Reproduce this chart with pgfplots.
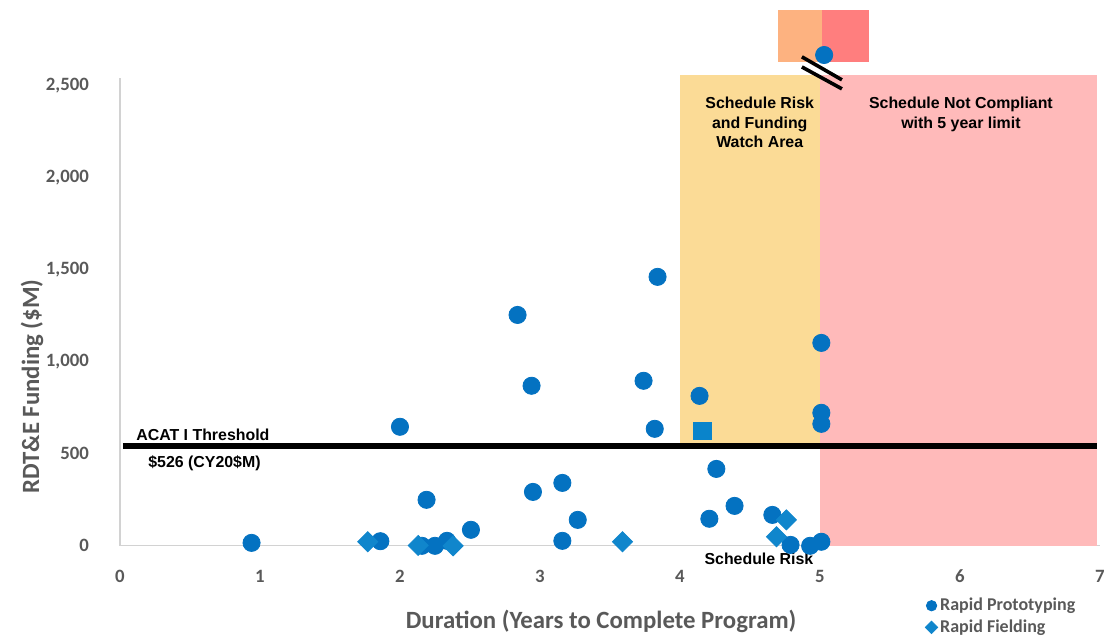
\documentclass[border=0pt]{standalone}
\usepackage{pgfplots}
\pgfplotsset{compat=1.18}
\usepackage{fontspec}
\setmainfont{Carlito}
\newfontfamily\arialfont{Liberation Sans}
\definecolor{tickgray}{RGB}{89,89,89}
\definecolor{ptblue}{RGB}{4,114,193}
\definecolor{dmblue}{RGB}{16,134,204}
\definecolor{sqblue}{RGB}{10,132,203}
\definecolor{watchyellow}{RGB}{251,219,150}
\definecolor{ncpink}{RGB}{255,186,186}
\definecolor{insetorange}{RGB}{253,178,128}
\definecolor{insetred}{RGB}{255,126,126}
\definecolor{axgray}{RGB}{210,210,210}
\begin{document}
\begin{tikzpicture}
\begin{axis}[
  scale only axis, width=490pt, height=234.1pt,
  xmin=0, xmax=7, ymin=0, ymax=2545,
  clip=false,
  axis x line*=bottom, axis y line*=left,
  axis line style={draw=axgray, line width=0.6pt, -},
  xtick={0,1,2,3,4,5,6,7}, ytick={0,500,1000,1500,2000,2500},
  major tick length=0pt,
  /pgf/number format/assume math mode=true,
  /pgf/number format/1000 sep={,},
  tick label style={font=\fontsize{9.4}{11}\selectfont\bfseries, text=tickgray},
  yticklabel style={xshift=-12pt},
  xticklabel style={yshift=-8.5pt},
  xlabel={Duration (Years to Complete Program)},
  ylabel={RDT\&E Funding (\$M)},
  every axis x label/.style={at={(axis description cs:0.491,0)}, anchor=center, yshift=-38pt,
     font=\fontsize{12.4}{14}\selectfont\bfseries, text=tickgray},
  every axis y label/.style={at={(axis description cs:-0.0898,0.34)}, rotate=90, anchor=center,
     font=\fontsize{12.4}{14}\selectfont\bfseries, text=tickgray},
  legend style={at={(axis cs:5.75,-268)}, anchor=north west, draw=none, fill=none,
     font=\fontsize{9}{10}\selectfont\bfseries, text=tickgray, row sep=0.6pt,
     inner sep=0pt, nodes={inner sep=1.2pt}},
  legend cell align=left,
  legend image code/.code={\draw[#1] plot coordinates {(0pt,0pt)};},
]
% shaded regions
\addplot[fill=ncpink, draw=none, forget plot] coordinates {(5,0) (6.98,0) (6.98,2560) (5,2560)} -- cycle;
\addplot[fill=watchyellow, draw=none, forget plot] coordinates {(4,543) (5,543) (5,2560) (4,2560)} -- cycle;
% inset (broken axis)
\addplot[fill=insetorange, draw=none, forget plot] coordinates {(4.70,2630) (5.014,2630) (5.014,2913) (4.70,2913)} -- cycle;
\addplot[fill=insetred, draw=none, forget plot] coordinates {(5.014,2630) (5.35,2630) (5.35,2913) (5.014,2913)} -- cycle;
\addplot[black, line width=1.8pt, forget plot] coordinates {(4.871,2658) (5.157,2533)};
\addplot[black, line width=1.8pt, forget plot] coordinates {(4.871,2603) (5.157,2484)};
% threshold
\addplot[black, line width=3pt, forget plot] coordinates {(0.02,543) (6.98,543)};
% data
\addplot[only marks, mark=*, mark size=4.3pt, color=ptblue, mark options={draw=none, fill=ptblue},
  legend image post style={mark size=2.6pt}] coordinates {
 (0.94,16) (1.86,25) (2.0,647) (2.19,250) (2.157,0) (2.25,0) (2.336,27) (2.507,87)
 (2.84,1255) (2.94,870) (2.95,293) (3.16,342) (3.16,27) (3.27,141)
 (3.74,897) (3.82,636) (3.84,1462) (4.14,815) (4.21,147) (4.26,418) (4.39,217)
 (4.66,168) (4.79,5) (4.93,0) (5.01,22) (5.01,663) (5.01,723) (5.01,1103) (5.03,2668)
};
\addlegendentry{Rapid Prototyping}
\addplot[only marks, mark=square*, mark size=3.55pt, color=dmblue, mark options={draw=none, fill=dmblue, rotate=45},
  legend image post style={mark size=2.2pt}] coordinates {
 (1.77,22) (2.13,2) (2.38,0) (3.59,22) (4.69,49) (4.76,141)
};
\addlegendentry{Rapid Fielding}
\addplot[only marks, mark=square*, mark size=4.4pt, color=sqblue, mark options={draw=none, fill=sqblue}, forget plot] coordinates {(4.16,625)};
% annotations
\node[anchor=north, align=center, inner sep=0pt, font=\arialfont\bfseries\fontsize{7.95}{9.6}\selectfont] at (axis cs:4.57,2440) {Schedule Risk\\and Funding\\Watch Area};
\node[anchor=north, align=center, inner sep=0pt, font=\arialfont\bfseries\fontsize{7.95}{9.6}\selectfont] at (axis cs:6.007,2440) {Schedule Not Compliant\\with 5 year limit};
\node[anchor=base west, inner sep=0pt, font=\arialfont\bfseries\fontsize{7.95}{9.6}\selectfont] at (axis cs:0.114,572) {ACAT I Threshold};
\node[anchor=base west, inner sep=0pt, font=\arialfont\bfseries\fontsize{7.95}{9.6}\selectfont] at (axis cs:0.2,425) {\$526 (CY20\$M)};
\node[anchor=base, inner sep=0pt, font=\arialfont\bfseries\fontsize{7.95}{9.6}\selectfont] at (axis cs:4.564,-102) {Schedule Risk};
% page extent
\coordinate (bbA) at (axis cs:-0.857,2967);
\coordinate (bbB) at (axis cs:7.029,-495);
\end{axis}
\pgfresetboundingbox
\path[use as bounding box] (bbA) rectangle (bbB);
\end{tikzpicture}
\end{document}
